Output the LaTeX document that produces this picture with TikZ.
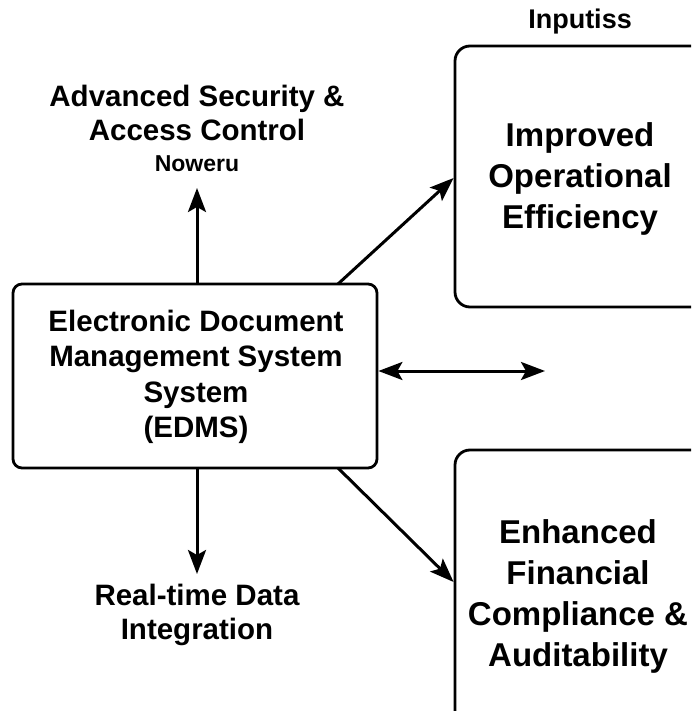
\documentclass[tikz,border=0pt]{standalone}
\usepackage{fontspec}
\setmainfont{Liberation Sans}
\usetikzlibrary{arrows.meta}
\begin{document}
\begin{tikzpicture}[x=1pt,y=-1pt,
  box/.style={draw, line width=2.8pt, rounded corners=12pt, inner sep=0pt},
  lbl/.style={align=center, font=\fontsize{29.5}{34}\selectfont\bfseries},
  blbl/.style={align=center, font=\fontsize{33}{41}\selectfont\bfseries},
  conn/.style={line width=3pt, -{Stealth[length=24pt,width=18pt,inset=5pt]}},
  dconn/.style={line width=3pt, {Stealth[length=24pt,width=18pt,inset=5pt]}-{Stealth[length=24pt,width=18pt,inset=5pt]}}]
\fill[white] (0,0) rectangle (691,711);
\useasboundingbox (0,0) rectangle (691,711);
\clip (0,0) rectangle (691,711);
% boxes
\node[box, rounded corners=9pt, minimum width=364pt, minimum height=184pt] (edms) at (195,376) {};
\node[lbl, font=\fontsize{29.5}{35.5}\selectfont\bfseries] (edmst) at (196,377) {Electronic Document\\Management System\\System\\(EDMS)};
\node[box, rounded corners=15pt, minimum width=260pt, minimum height=261pt] (eff) at (585,176.5) {};
\node[blbl] (efft) at (580,179) {Improved\\Operational\\Efficiency};
\node[box, rounded corners=15pt, minimum width=260pt, minimum height=280pt] (fin) at (585,590) {};
\node[blbl] (fint) at (578,596) {Enhanced\\Financial\\Compliance \&\\Auditability};
% labels
\node[font=\fontsize{27}{30}\selectfont\bfseries] (inp) at (580,22) {Inputiss};
\node[lbl] (sec) at (197,113) {Advanced Security \&\\Access Control};
\node[font=\fontsize{23}{26}\selectfont\bfseries] (now) at (197,164) {Noweru};
\node[lbl] (rt) at (197,615) {Real-time Data\\Integration};
% connector ends
\coordinate (upend) at (197,188);
\coordinate (dnend) at (197,574);
\coordinate (dbl) at (545,371);
\coordinate (ne0) at (338,284);
\coordinate (se0) at (338,468);
% connectors
\draw[conn] (edms.north -| upend) -- (upend);
\draw[conn] (edms.south -| dnend) -- (dnend);
\draw[dconn] (edms.east |- dbl) -- (dbl);
\draw[conn] (ne0) -- (eff.west |- 0,178);
\draw[conn] (se0) -- (fin.west |- 0,582);
\end{tikzpicture}
\end{document}
